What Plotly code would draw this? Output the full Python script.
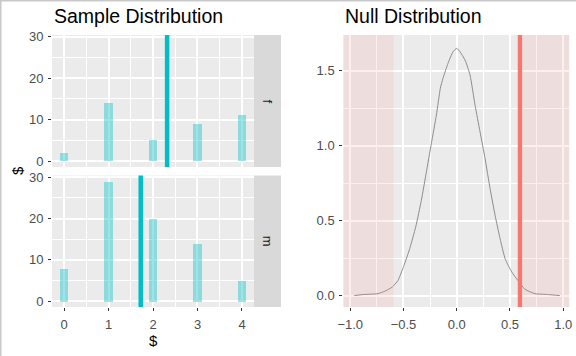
import plotly.graph_objects as go

W, H = 576, 356

# ---------------- data ----------------
counts_x = [0, 1, 2, 3, 4]
f_counts = [2, 14, 5, 9, 11]
m_counts = [8, 29, 20, 14, 5]
facet_labels = ["f", "m"]
left_yticks = [0, 10, 20, 30]

null_x = [-0.962, -0.88, -0.739, -0.676, -0.605, -0.551, -0.495, -0.441, -0.385, -0.332,
          -0.285, -0.238, -0.191, -0.154, -0.129, -0.082, -0.035, 0.0, 0.031, 0.078,
          0.125, 0.172, 0.219, 0.266, 0.313, 0.360, 0.407, 0.454, 0.516, 0.573,
          0.641, 0.735, 0.86, 0.968]
null_y = [0.0, 0.007, 0.013, 0.029, 0.057, 0.102, 0.202, 0.314, 0.458, 0.636,
          0.825, 1.015, 1.204, 1.382, 1.449, 1.549, 1.626, 1.649, 1.626, 1.571,
          1.471, 1.270, 1.092, 0.914, 0.714, 0.536, 0.380, 0.247, 0.158, 0.102,
          0.042, 0.013, 0.007, 0.0]
right_xticks = [-1.0, -0.5, 0.0, 0.5, 1.0]
right_yticks = [0.0, 0.5, 1.0, 1.5]

f_mean = sum(x * c for x, c in zip(counts_x, f_counts)) / sum(f_counts)
m_mean = sum(x * c for x, c in zip(counts_x, m_counts)) / sum(m_counts)
obs_stat = f_mean - m_mean

# ---------------- helpers ----------------
def px(x):
    return x / W

def py(y):
    return 1 - y / H

FONT = "Liberation Sans, Arial, sans-serif"
GRID = "white"
PANEL = "#EBEBEB"
TICKFONT = dict(family=FONT, size=13, color="#4D4D4D")
BAR = "rgba(0,191,196,0.4)"
TEAL = "#00BFC4"
SALMON = "#F8766D"

fig = go.Figure()

fig.add_trace(go.Bar(x=counts_x, y=f_counts, width=0.2, marker=dict(color=BAR, line=dict(width=0)),
                     xaxis="x", yaxis="y", showlegend=False, hoverinfo="skip"))
fig.add_trace(go.Bar(x=counts_x, y=m_counts, width=0.2, marker=dict(color=BAR, line=dict(width=0)),
                     xaxis="x2", yaxis="y2", showlegend=False, hoverinfo="skip"))
fig.add_trace(go.Scatter(x=null_x, y=null_y, mode="lines",
                         line=dict(color="#8C8C8C", width=1, shape="spline", smoothing=0.5),
                         xaxis="x3", yaxis="y3", showlegend=False, hoverinfo="skip"))

LX0, LX1 = 52, 254
T_Y0, T_Y1 = 35, 167
B_Y0, B_Y1 = 175.5, 307
left_xrange = [-0.27, 4.27]
left_yrange = [-1.45, 30.45]
RX0, RX1 = 343.3, 569.3
R_Y0, R_Y1 = 35, 307
right_xrange = [-1.065, 1.057]
right_yrange = [-0.076, 1.738]

common = dict(showline=False, zeroline=False, gridcolor=GRID, gridwidth=1.6,
              tickfont=TICKFONT, ticklen=3, tickwidth=1, tickcolor="#333333",
              automargin=False, ticklabelstandoff=2)

def minor(d):
    return dict(dtick=d, tick0=0, showgrid=True, gridcolor=GRID, gridwidth=0.8)

fig.update_layout(
    width=W, height=H,
    margin=dict(l=0, r=0, t=0, b=0),
    paper_bgcolor="white", plot_bgcolor=PANEL,
    bargap=0,
    xaxis=dict(common, domain=[px(LX0), px(LX1)], anchor="y", range=left_xrange,
               tickvals=counts_x, showticklabels=False, ticks="", minor=minor(0.5)),
    yaxis=dict(common, domain=[py(T_Y1), py(T_Y0)], anchor="x", range=left_yrange,
               tickvals=left_yticks, ticks="outside", minor=minor(5)),
    xaxis2=dict(common, domain=[px(LX0), px(LX1)], anchor="y2", range=left_xrange,
                tickvals=counts_x, ticks="outside", minor=minor(0.5)),
    yaxis2=dict(common, domain=[py(B_Y1), py(B_Y0)], anchor="x2", range=left_yrange,
                tickvals=left_yticks, ticks="outside", minor=minor(5)),
    xaxis3=dict(common, domain=[px(RX0), px(RX1)], anchor="y3", range=right_xrange,
                tickvals=right_xticks, tickformat=".1f", ticks="outside", minor=minor(0.25)),
    yaxis3=dict(common, domain=[py(R_Y1), py(R_Y0)], anchor="x3", range=right_yrange,
                tickvals=right_yticks, tickformat=".1f", ticks="outside", minor=minor(0.25)),
)

shapes = []
for (y0, y1) in [(T_Y0, T_Y1), (B_Y0, B_Y1)]:
    shapes.append(dict(type="rect", xref="paper", yref="paper", x0=px(LX1), x1=px(281),
                       y0=py(y1), y1=py(y0), fillcolor="#D9D9D9", line=dict(width=0)))
shapes.append(dict(type="line", xref="x", yref="paper", x0=f_mean, x1=f_mean,
                   y0=py(T_Y1), y1=py(T_Y0), line=dict(color=TEAL, width=4.5)))
shapes.append(dict(type="line", xref="x2", yref="paper", x0=m_mean, x1=m_mean,
                   y0=py(B_Y1), y1=py(B_Y0), line=dict(color=TEAL, width=4.5)))
shapes.append(dict(type="rect", xref="x3", yref="paper", x0=right_xrange[0], x1=-obs_stat,
                   y0=py(R_Y1), y1=py(R_Y0), fillcolor="rgba(255,142,142,0.15)", line=dict(width=0),
                   layer="above"))
shapes.append(dict(type="rect", xref="x3", yref="paper", x0=obs_stat, x1=right_xrange[1],
                   y0=py(R_Y1), y1=py(R_Y0), fillcolor="rgba(255,142,142,0.15)", line=dict(width=0),
                   layer="above"))
shapes.append(dict(type="line", xref="x3", yref="paper", x0=obs_stat, x1=obs_stat,
                   y0=py(R_Y1), y1=py(R_Y0), line=dict(color=SALMON, width=4.3)))
shapes.append(dict(type="line", xref="paper", yref="paper", x0=0, x1=0, y0=0, y1=1,
                   line=dict(color="#C8C8C8", width=3)))
shapes.append(dict(type="line", xref="paper", yref="paper", x0=0, x1=1, y0=1, y1=1,
                   line=dict(color="#C8C8C8", width=3)))
fig.update_layout(shapes=shapes)

ann = []
ann.append(dict(text="Sample Distribution", xref="paper", yref="paper", x=px(LX0), y=py(29),
                xanchor="left", yanchor="bottom", showarrow=False,
                font=dict(family=FONT, size=19.5, color="black")))
ann.append(dict(text="Null Distribution", xref="paper", yref="paper", x=px(RX0), y=py(29),
                xanchor="left", yanchor="bottom", showarrow=False,
                font=dict(family=FONT, size=19.5, color="black")))
for lab, (y0, y1) in zip(facet_labels, [(T_Y0, T_Y1), (B_Y0, B_Y1)]):
    ann.append(dict(text=lab, xref="paper", yref="paper", x=px(267.5), y=py((y0 + y1) / 2),
                    xanchor="center", yanchor="middle", showarrow=False, textangle=90,
                    font=dict(family=FONT, size=13, color="#1A1A1A")))
ann.append(dict(text="$", xref="paper", yref="paper", x=px(17), y=py(171),
                xanchor="center", yanchor="middle", showarrow=False, textangle=-90,
                font=dict(family=FONT, size=15, color="black")))
ann.append(dict(text="$", xref="paper", yref="paper", x=px(153), y=py(340),
                xanchor="center", yanchor="middle", showarrow=False,
                font=dict(family=FONT, size=15, color="black")))
fig.update_layout(annotations=ann)

fig.write_html("out.html", config={"displayModeBar": False},
               post_script="document.body.style.margin='0';document.body.style.overflow='hidden';")
